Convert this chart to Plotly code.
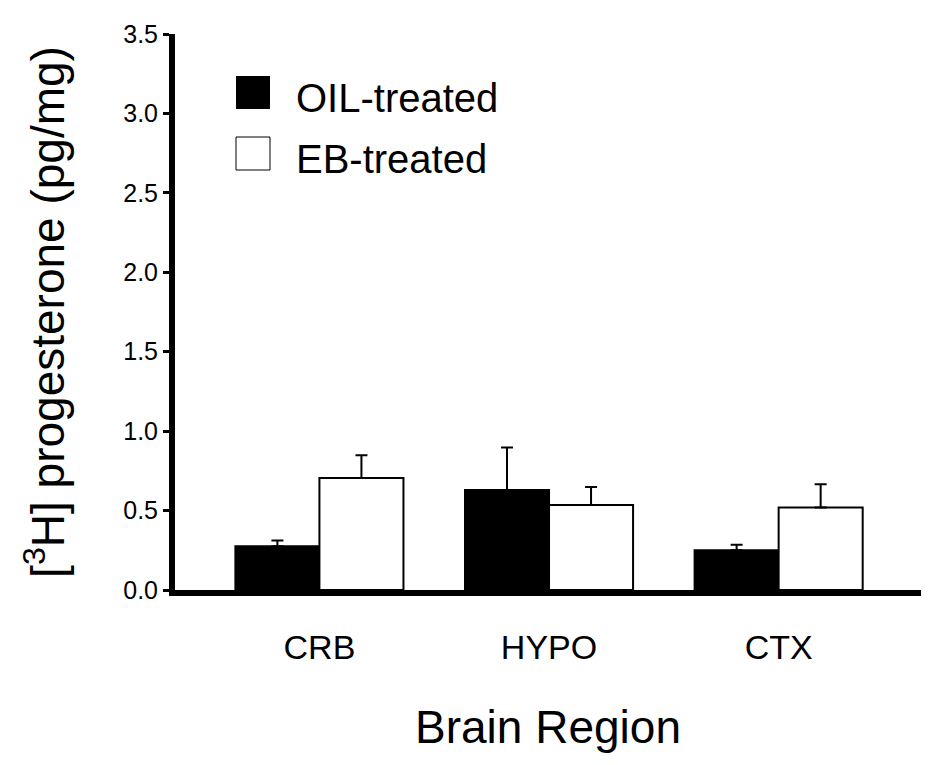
import plotly.graph_objects as go

categories = ["CRB", "HYPO", "CTX"]
oil_values = [0.275, 0.63, 0.25]
oil_errors = [0.036, 0.267, 0.035]
eb_values = [0.705, 0.535, 0.52]
eb_errors = [0.143, 0.114, 0.146]
series_names = ["OIL-treated", "EB-treated"]
y_ticks = [0.0, 0.5, 1.0, 1.5, 2.0, 2.5, 3.0, 3.5]

FONT = "Liberation Sans, Arial, sans-serif"

# page body has an 8px margin; plot area in page coords: x 175..921, y 34..590
PX0, PX1, PY0, PY1 = 175, 921, 34, 590
def px(x):
    return (x - PX0) / (PX1 - PX0)
def py(y):
    return 1 - (y - PY0) / (PY1 - PY0)

fig = go.Figure()
fig.add_trace(go.Bar(
    x=categories, y=oil_values, name=series_names[0],
    marker=dict(color="black", line=dict(color="black", width=2)),
    error_y=dict(type="data", array=oil_errors, arrayminus=[0]*3, symmetric=False,
                 color="black", thickness=2, width=6),
))
fig.add_trace(go.Bar(
    x=categories, y=eb_values, name=series_names[1],
    marker=dict(color="white", line=dict(color="black", width=2)),
    error_y=dict(type="data", array=eb_errors, arrayminus=[0]*3, symmetric=False,
                 color="black", thickness=2, width=6),
))

fig.update_layout(
    width=942, height=765,
    margin=dict(l=PX0 - 8, r=942 + 8 - PX1, t=PY0 - 8, b=765 + 8 - PY1),
    paper_bgcolor="white", plot_bgcolor="white",
    barmode="group", bargap=0.268, bargroupgap=0,
    showlegend=False,
    font=dict(family=FONT, color="black"),
)
fig.update_xaxes(
    range=[-0.629, 2.62],
    showline=True, linecolor="black", linewidth=6,
    ticks="", showgrid=False, zeroline=False,
    tickfont=dict(size=34), ticklabelstandoff=22,
    title=dict(text="Brain Region", font=dict(size=46), standoff=48),
)
fig.update_yaxes(
    range=[0, 3.5],
    tickvals=y_ticks, tickformat=".1f",
    showline=True, linecolor="black", linewidth=6,
    ticks="outside", ticklen=6, tickwidth=3, tickcolor="black",
    showgrid=False, zeroline=False,
    tickfont=dict(size=25),
    title=dict(text="[<sup>3</sup>H] progesterone (pg/mg)", font=dict(size=46), standoff=46),
)

# Legend drawn manually (large square swatches)
legend_items = [(series_names[0], "black", 76), (series_names[1], "white", 137)]
for name, col, ytop in legend_items:
    fig.add_shape(type="rect", xref="paper", yref="paper",
                  x0=px(236), x1=px(270), y0=py(ytop + 33), y1=py(ytop),
                  fillcolor=col, line=dict(color="black", width=1 if col == "white" else 0))
    fig.add_annotation(xref="paper", yref="paper",
                       x=px(294), y=py(ytop + 22),
                       text=name, showarrow=False, xanchor="left", yanchor="middle",
                       font=dict(size=40, family=FONT, color="black"))

fig.write_html("out.html")
